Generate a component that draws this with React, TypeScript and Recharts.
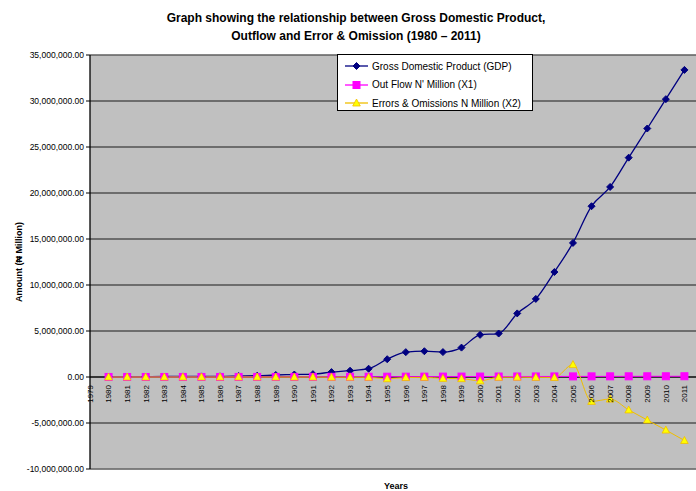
import React from 'react';
import {
  LineChart,
  Line,
  XAxis,
  YAxis,
  CartesianGrid,
  ReferenceLine,
} from 'recharts';

const years = [
  1980, 1981, 1982, 1983, 1984, 1985, 1986, 1987, 1988, 1989, 1990, 1991, 1992, 1993, 1994, 1995,
  1996, 1997, 1998, 1999, 2000, 2001, 2002, 2003, 2004, 2005, 2006, 2007, 2008, 2009, 2010, 2011,
];

// Gross Domestic Product, N million
const gdp = [
  49632, 47619, 49069, 53107, 59622, 67908, 69147, 105222, 139085, 216798, 267550, 312140, 532614,
  683870, 899863, 1933212, 2702719, 2801973, 2708431, 3194015, 4582127, 4725086, 6912381, 8487032,
  11411067, 14572239, 18564595, 20657318, 23842126, 27010000, 30200000, 33380000,
];

// Out flow N' million (X1)
const outflow = [
  3200, 2900, 2600, 2400, 2200, 2500, 3800, 6100, 7400, 9800, 12500, 15300, 19800, 24100, 26700,
  31500, 35200, 38400, 41000, 43500, 47800, 52100, 55600, 58900, 61200, 64800, 67900, 71300, 73800,
  76200, 78900, 81500,
];

// Errors & omissions N million (X2)
const errors = [
  -1200, -3100, -2500, -1800, -1500, -2600, -4200, -3000, -6500, -9000, -12000, -8500, -25000,
  -20000, -30000, -190000, -60000, -40000, -150000, -180000, -420000, -30000, -20000, -40000, -50000,
  1350000, -2650000, -2400000, -3580000, -4680000, -5770000, -6900000,
];

const xTicks = [
  1979, 1980, 1981, 1982, 1983, 1984, 1985, 1986, 1987, 1988, 1989, 1990, 1991, 1992, 1993, 1994,
  1995, 1996, 1997, 1998, 1999, 2000, 2001, 2002, 2003, 2004, 2005, 2006, 2007, 2008, 2009, 2010,
  2011,
];
const yTicks = [-10000000, -5000000, 0, 5000000, 10000000, 15000000, 20000000, 25000000, 30000000, 35000000];

const data = years.map((year, i) => ({
  year,
  gdp: gdp[i],
  outflow: outflow[i],
  errors: errors[i],
}));

const FONT = "Arial, 'Liberation Sans', sans-serif";
const CHART_W = 720;
const CHART_H = 491;
const MARGIN = { top: 55, right: 17, bottom: 0, left: 0 };
const X_AXIS_H = 22;
const Y_MIN = -10000000;
const Y_MAX = 35000000;
const PLOT_H = CHART_H - MARGIN.top - MARGIN.bottom - X_AXIS_H;
const ZERO_Y = MARGIN.top + (PLOT_H * Y_MAX) / (Y_MAX - Y_MIN);

const NAVY = '#000080';
const MAGENTA = '#FF00FF';
const GOLD = '#F0BE00';

function fmtAmount(v: number) {
  return v.toLocaleString('en-US', { minimumFractionDigits: 2, maximumFractionDigits: 2 });
}

function Diamond({ cx, cy }: { cx: number; cy: number }) {
  const r = 3.5;
  return <polygon points={`${cx},${cy - r} ${cx + r},${cy} ${cx},${cy + r} ${cx - r},${cy}`} fill={NAVY} stroke={NAVY} />;
}

function Square({ cx, cy }: { cx: number; cy: number }) {
  return <rect x={cx - 3.5} y={cy - 3.5} width={7} height={7} fill={MAGENTA} stroke={MAGENTA} />;
}

function Triangle({ cx, cy }: { cx: number; cy: number }) {
  return (
    <polygon
      points={`${cx},${cy - 4} ${cx + 3.8},${cy + 3} ${cx - 3.8},${cy + 3}`}
      fill="#FFFF00"
      stroke={GOLD}
      strokeWidth={0.8}
    />
  );
}

const series = [
  { key: 'gdp', name: 'Gross Domestic Product (GDP)', color: NAVY, Marker: Diamond, width: 1.3 },
  { key: 'outflow', name: "Out Flow N' Million (X1)", color: MAGENTA, Marker: Square, width: 1 },
  { key: 'errors', name: 'Errors & Omissions N Million (X2)', color: GOLD, Marker: Triangle, width: 1 },
];

function YearTick(props: any) {
  const { x, payload } = props;
  const y = ZERO_Y + 8;
  return (
    <text
      x={x}
      y={y}
      transform={`rotate(-90 ${x} ${y})`}
      textAnchor="end"
      dy="0.35em"
      fontSize={8}
      fontFamily={FONT}
      fill="#000"
    >
      {payload.value}
    </text>
  );
}

function LegendBox() {
  return (
    <div
      style={{
        position: 'absolute',
        left: 337,
        top: 54,
        width: 196,
        height: 57,
        background: '#fff',
        border: '1px solid #000',
        fontFamily: FONT,
        fontSize: 10,
        color: '#000',
        paddingTop: 2,
        boxSizing: 'border-box',
      }}
    >
      {series.map((s) => (
        <div key={s.key} style={{ display: 'flex', alignItems: 'center', height: 18.5 }}>
          <svg width={34} height={12} style={{ flex: 'none' }}>
            <line x1={7} y1={6} x2={30} y2={6} stroke={s.color} strokeWidth={1.3} />
            <s.Marker cx={18.5} cy={6} />
          </svg>
          <span style={{ whiteSpace: 'nowrap' }}>{s.name}</span>
        </div>
      ))}
    </div>
  );
}

export default function App() {
  return (
    <div
      style={{
        position: 'absolute',
        left: 0,
        top: 0,
        width: 696,
        height: 491,
        overflow: 'hidden',
        background: '#fff',
        fontFamily: FONT,
      }}
    >
      <div
        style={{
          position: 'absolute',
          left: 0,
          top: 9,
          width: 712,
          textAlign: 'center',
          fontWeight: 'bold',
          fontSize: 12,
          lineHeight: '18px',
          color: '#000',
        }}
      >
        Graph showing the relationship between Gross Domestic Product,
        <br />
        Outflow and Error &amp; Omission (1980 – 2011)
      </div>

      <LineChart width={CHART_W} height={CHART_H} data={data} margin={MARGIN}>
        <CartesianGrid vertical={false} stroke="#1a1a1a" fill="#C0C0C0" fillOpacity={1} />
        <ReferenceLine y={Y_MAX} stroke="#808080" />
        <ReferenceLine y={Y_MIN} stroke="#808080" strokeWidth={1.5} />
        <XAxis
          dataKey="year"
          type="number"
          domain={[1979, 2012]}
          ticks={xTicks}
          interval={0}
          height={X_AXIS_H}
          axisLine={false}
          tickLine={false}
          tick={<YearTick />}
          allowDataOverflow
        />
        <YAxis
          type="number"
          domain={[Y_MIN, Y_MAX]}
          ticks={yTicks}
          interval={0}
          width={90}
          axisLine={{ stroke: '#000', strokeWidth: 1.3 }}
          tickLine={{ stroke: '#000' }}
          tickSize={4}
          tick={{ fill: '#000', fontSize: 8.5, fontFamily: FONT }}
          tickFormatter={fmtAmount}
        />
        <ReferenceLine y={0} stroke="#000" />
        {series.map((s) => (
          <Line
            key={s.key}
            type="monotone"
            dataKey={s.key}
            name={s.name}
            stroke={s.color}
            strokeWidth={s.width}
            dot={(p: any) => <s.Marker key={`${s.key}-${p.index}`} cx={p.cx} cy={p.cy} />}
            activeDot={false}
            isAnimationActive={false}
          />
        ))}
      </LineChart>

      <LegendBox />

      <div
        style={{
          position: 'absolute',
          left: 19,
          top: 262,
          transform: 'translate(-50%, -50%) rotate(-90deg)',
          whiteSpace: 'nowrap',
          fontWeight: 'bold',
          fontSize: 9,
          color: '#000',
        }}
      >
        Amount (₦ Million)
      </div>
      <div
        style={{
          position: 'absolute',
          left: 396,
          top: 481,
          transform: 'translateX(-50%)',
          fontWeight: 'bold',
          fontSize: 9,
          lineHeight: '10px',
          color: '#000',
        }}
      >
        Years
      </div>
    </div>
  );
}
